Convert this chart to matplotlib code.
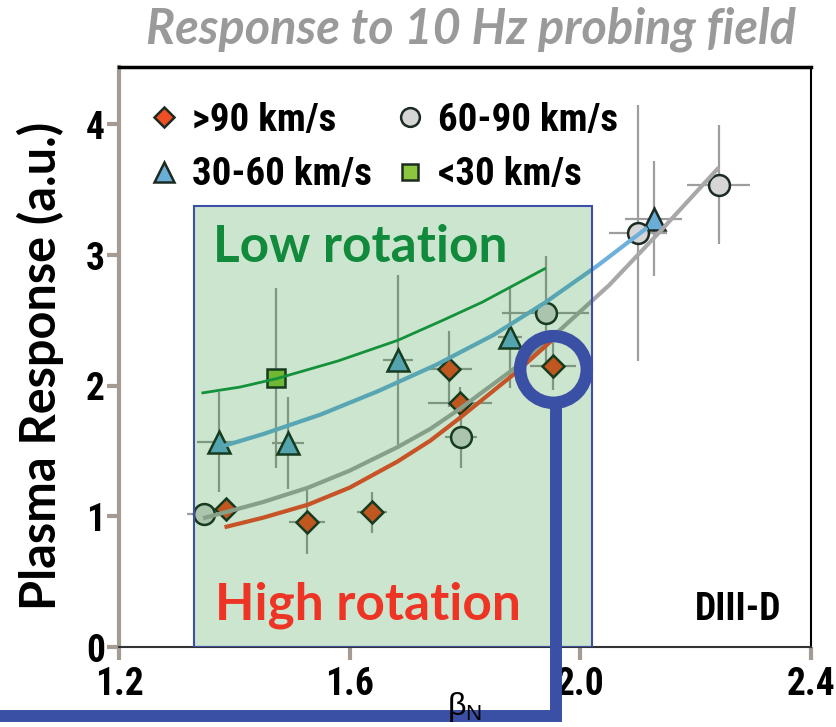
import matplotlib
matplotlib.use("Agg")
import matplotlib.pyplot as plt
from matplotlib import font_manager
from matplotlib.patches import Rectangle

# fonts: condensed bold for numbers/legend, geometric bold for the big labels
fonts = font_manager.fontManager.ttflist
names = {f.name for f in fonts}
narrow, stretch = 'Liberation Sans', 'normal'
for cand in ['Liberation Sans Narrow', 'Roboto Condensed', 'Open Sans Condensed', 'Arial Narrow']:
    if cand in names:
        narrow = cand
        break
else:
    if any(f.name == 'DejaVu Sans' and f.stretch == 'condensed' for f in fonts):
        narrow, stretch = 'DejaVu Sans', 'condensed'
geo = 'Lato' if 'Lato' in names else 'DejaVu Sans'
NARROW_SIZE = 27 if narrow != 'Liberation Sans' else 24

# ---- data ----
# rotation > 90 km/s (diamonds)
hi_x = [1.385, 1.526, 1.639, 1.773, 1.791, 1.953]
hi_y = [1.06, 0.96, 1.03, 2.13, 1.87, 2.15]
hi_xerr = [0.02, 0.032, 0.026, 0.04, 0.055, 0.04]
hi_yerr = [0.04, 0.25, 0.16, 0.29, 0.12, 0.18]

# 60-90 km/s (circles)
mid_x = [1.348, 1.793, 1.940, 2.100, 2.240]
mid_y = [1.02, 1.61, 2.56, 3.17, 3.54]
mid_xerr = [0.03, 0.027, 0.075, 0.05, 0.055]
mid_yerr = [0.04, 0.24, 0.43, 0.98, 0.455]

# 30-60 km/s (triangles)
low_x = [1.373, 1.493, 1.683, 1.878, 2.127]
low_y = [1.57, 1.56, 2.20, 2.37, 3.28]
low_xerr = [0.037, 0.028, 0.026, 0.02, 0.049]
low_yerr = [0.38, 0.35, 0.65, 0.39, 0.44]

# < 30 km/s (square)
slow_x = [1.473]
slow_y = [2.06]
slow_xerr = [0.015]
slow_yerr = [0.69]

# fitted trend curves
fit_slow_x = [1.343, 1.41, 1.473, 1.58, 1.683, 1.761, 1.83, 1.94]
fit_slow_y = [1.944, 1.99, 2.054, 2.19, 2.347, 2.50, 2.64, 2.90]
fit_low_x = [1.378, 1.45, 1.55, 1.65, 1.75, 1.85, 1.94, 2.03, 2.116]
fit_low_y = [1.535, 1.63, 1.78, 1.96, 2.16, 2.39, 2.64, 2.92, 3.21]
fit_mid_x = [1.346, 1.40, 1.45, 1.528, 1.60, 1.683, 1.74, 1.79, 1.888, 1.963, 2.05, 2.136, 2.24]
fit_mid_y = [0.986, 1.05, 1.11, 1.22, 1.35, 1.53, 1.67, 1.82, 2.14, 2.42, 2.77, 3.17, 3.67]
fit_hi_x = [1.383, 1.45, 1.528, 1.60, 1.683, 1.74, 1.79, 1.888, 1.954]
fit_hi_y = [0.917, 0.99, 1.09, 1.22, 1.42, 1.58, 1.75, 2.10, 2.36]

labels = ['>90 km/s', '30-60 km/s', '60-90 km/s', '<30 km/s']
xticks = [1.2, 1.6, 2.0, 2.4]
yticks = [0, 1, 2, 3, 4]

fig = plt.figure(figsize=(8.37, 7.27), dpi=100)
ax = fig.add_axes([119 / 837, 80 / 727, 692 / 837, 580 / 727])

ebar = dict(fmt='none', ecolor='#9e9e9e', elinewidth=1.6, capsize=0, zorder=2)
ax.errorbar(hi_x, hi_y, xerr=hi_xerr, yerr=hi_yerr, **ebar)
ax.errorbar(mid_x, mid_y, xerr=mid_xerr, yerr=mid_yerr, **ebar)
ax.errorbar(low_x, low_y, xerr=low_xerr, yerr=low_yerr, **ebar)
ax.errorbar(slow_x, slow_y, xerr=slow_xerr, yerr=slow_yerr, **ebar)

mk = dict(ls='none', mec='#1c2b22', mew=1.8, zorder=3)
h_hi, = ax.plot(hi_x, hi_y, 'D', ms=11.5, mfc='#f04e23', label=labels[0], **mk)
h_low, = ax.plot(low_x, low_y, '^', ms=16, mfc='#6aaed8', label=labels[1], **mk)
h_mid, = ax.plot(mid_x, mid_y, 'o', ms=15, mfc='#d6d6d6', label=labels[2], **mk)
h_slow, = ax.plot(slow_x, slow_y, 's', ms=13, mfc='#8cc63e', label=labels[3], **mk)

ax.plot(fit_slow_x, fit_slow_y, color='#199646', lw=2.0, zorder=4, solid_capstyle='butt')
ax.plot(fit_low_x, fit_low_y, color='#6eb0dc', lw=3.0, zorder=4, solid_capstyle='butt')
ax.plot(fit_mid_x, fit_mid_y, color='#a8a8a8', lw=3.0, zorder=4, solid_capstyle='butt')
ax.plot(fit_hi_x, fit_hi_y, color='#f84a2c', lw=3.0, zorder=4, solid_capstyle='butt')

# green translucent box for the low rotation scan
ax.add_patch(Rectangle((1.33, 0), 0.69, 3.375, facecolor=(0, 125 / 255, 15 / 255),
                       alpha=0.2, edgecolor='none', zorder=5))
ax.add_patch(Rectangle((1.33, 0), 0.69, 3.375, fill=False, edgecolor='#3c4fa6',
                       lw=1.5, zorder=6))

ax.text(1.363, 2.945, 'Low rotation', color='#118a3c', fontsize=37, fontweight='bold',
        family=geo, va='baseline', zorder=7)
ax.text(1.366, 0.207, 'High rotation', color='#ee3424', fontsize=37, fontweight='bold',
        family=geo, va='baseline', zorder=7)
ax.text(2.349, 0.207, 'DIII-D', color='black', fontsize=NARROW_SIZE, fontweight='bold',
        family=narrow, fontstretch=stretch, ha='right', va='baseline', zorder=7)

# blue highlight ring on the last high-rotation point, with a leader line
ring_x, ring_y = hi_x[-1], hi_y[-1] - 0.025
ax.plot([ring_x], [ring_y], 'o', ms=48, mfc='none', mec='#3a50a4', mew=9,
        zorder=10, clip_on=False)
ax.plot([1.957, 1.957, 0.99], [ring_y - 0.255, -0.529, -0.529], color='#3a50a4',
        lw=8.6, solid_joinstyle='miter', solid_capstyle='butt', zorder=10, clip_on=False)

ax.set_xlim(1.2, 2.4)
ax.set_ylim(0, 4.44)
ax.set_xticks(xticks)
ax.set_xticklabels([f'{v:.1f}' for v in xticks])
ax.set_yticks(yticks)
ax.tick_params(direction='out', length=9, width=3, color='#a39b94',
               labelsize=NARROW_SIZE, top=False, right=False)
ax.tick_params(axis='x', pad=5)
ax.tick_params(axis='y', pad=1)
for lab in ax.get_xticklabels() + ax.get_yticklabels():
    lab.set_family(narrow)
    lab.set_fontstretch(stretch)
    lab.set_fontweight('bold')

ax.spines['left'].set_color('#a39b94')
ax.spines['left'].set_linewidth(3)
ax.spines['bottom'].set_color('#333333')
ax.spines['bottom'].set_linewidth(1.5)
ax.spines['top'].set_color('black')
ax.spines['top'].set_linewidth(2.5)
ax.spines['right'].set_color('black')
ax.spines['right'].set_linewidth(1.5)

leg = ax.legend(handles=[h_hi, h_low, h_mid, h_slow], ncol=2, loc='upper left',
                bbox_to_anchor=(0.043, 0.94), frameon=False, borderpad=0,
                borderaxespad=0, handlelength=0.8, handletextpad=0.3,
                columnspacing=0.6, labelspacing=0.45, markerscale=0.9,
                prop=dict(family=narrow, stretch=stretch, weight='bold', size=NARROW_SIZE + 1))

fig.text(40 / 837, 0.497, 'Plasma Response (a.u.)', rotation=90, ha='center',
         va='center', fontsize=35, fontweight='bold', family=geo)
fig.text(471 / 837, 1 - 6 / 727, 'Response to 10 Hz probing field', ha='center',
         va='top', fontsize=35, fontweight='bold', fontstyle='italic', family=geo,
         color='#9a9a9a')
fig.text(447 / 837, 1 - 690 / 727, r'$\mathregular{\beta_N}$', ha='left', va='top',
         fontsize=23, family='Liberation Sans')

fig.savefig('out.png', dpi=100)
